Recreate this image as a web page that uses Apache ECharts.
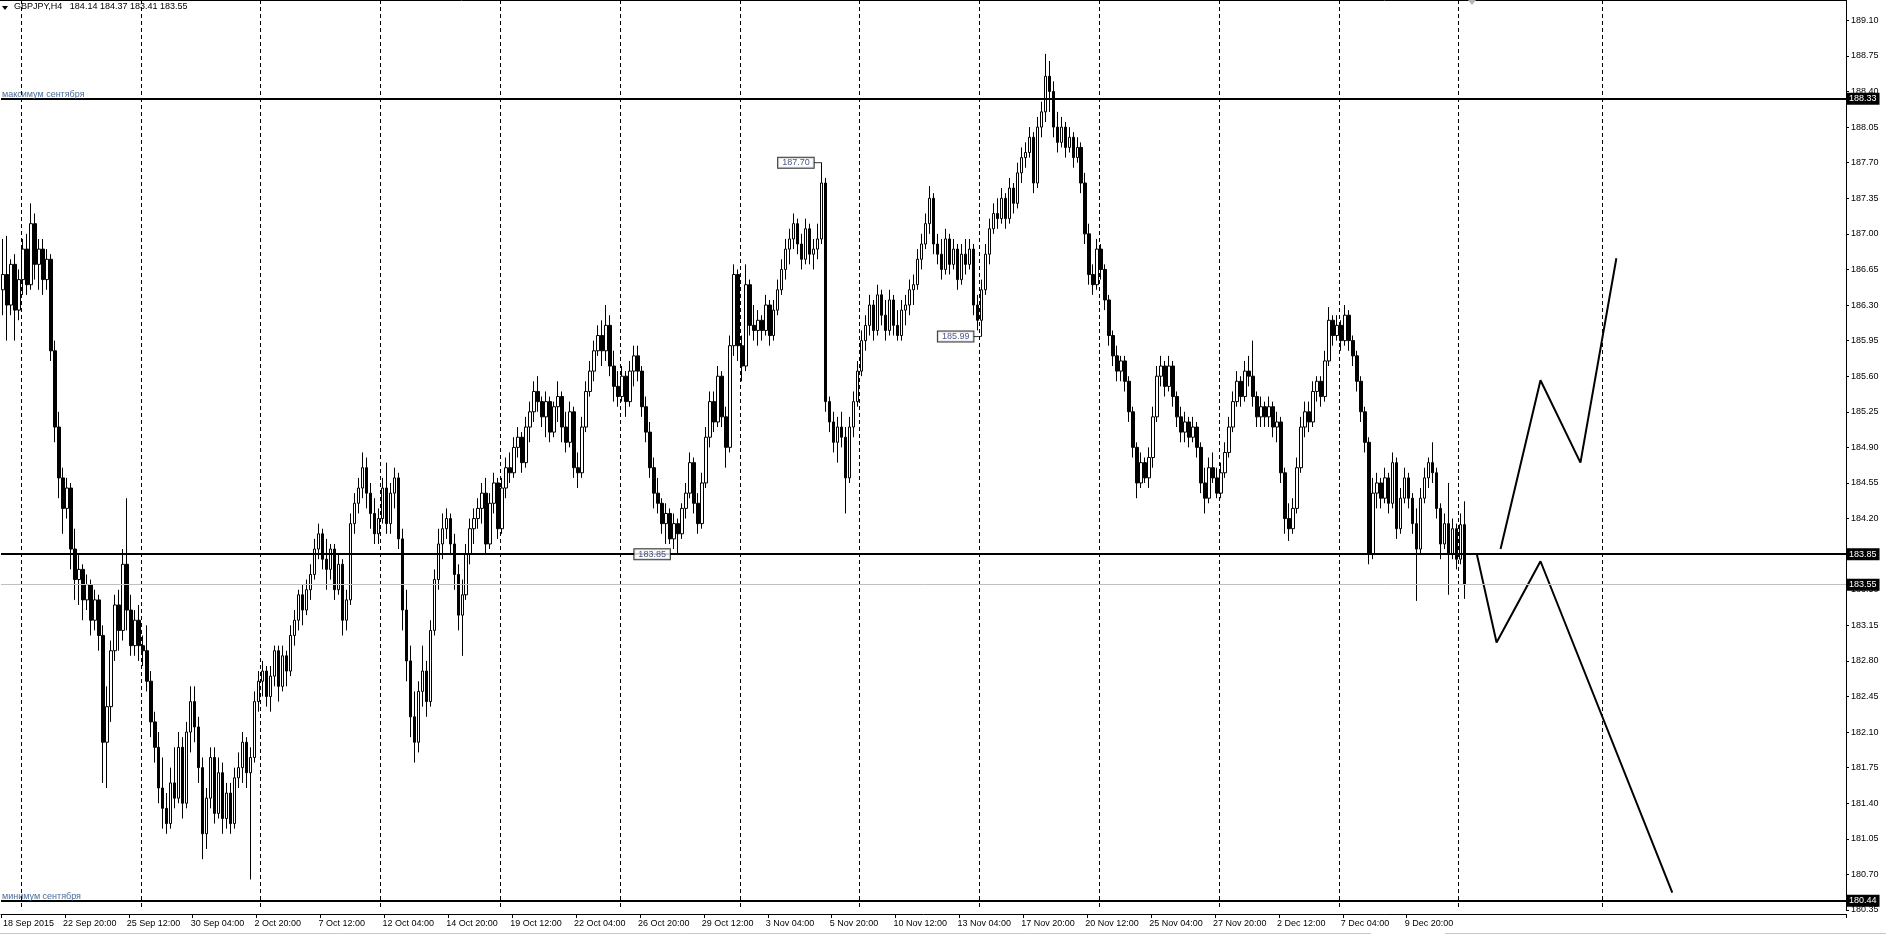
<!DOCTYPE html>
<html>
<head>
<meta charset="utf-8">
<title>GBPJPY H4</title>
<script src="https://cdn.jsdelivr.net/npm/echarts@6/dist/echarts.min.js"></script>
<style>
html, body { margin: 0; padding: 0; background: #fff; }
#chart { width: 1886px; height: 936px; }
</style>
</head>
<body>
<div id="chart"></div>
<script>
// time labels on the bottom axis, one every 16 H4 bars
const timeLabels = ['18 Sep 2015', '22 Sep 20:00', '25 Sep 12:00', '30 Sep 04:00', '2 Oct 20:00',
  '7 Oct 12:00', '12 Oct 04:00', '14 Oct 20:00', '19 Oct 12:00', '22 Oct 04:00', '26 Oct 20:00',
  '29 Oct 12:00', '3 Nov 04:00', '5 Nov 20:00', '10 Nov 12:00', '13 Nov 04:00', '17 Nov 20:00',
  '20 Nov 12:00', '25 Nov 04:00', '27 Nov 20:00', '2 Dec 12:00', '7 Dec 04:00', '9 Dec 20:00'];
const labelStep = 16;

// bar index where each week starts (monday 00:00) -> dashed grid lines
const weekStarts = [5, 35, 65, 95, 125, 155, 185, 215, 245, 275, 305, 335, 365, 401];

// horizontal levels
const sepHigh = 188.33;
const sepLow = 180.44;
const support = 183.85;
const bid = 183.55;

// marked extremes [bar, price]
const priceTags = [[205, 187.70], [245, 185.99], [169, 183.85]];

// hand drawn forecast zigzags [bar, price]
const bullPath = [[375, 183.90], [385, 185.56], [395, 184.75], [404, 186.76]];
const bearPath = [[369, 183.86], [374, 182.98], [385, 183.78], [418, 180.52]];

// GBPJPY H4 candles [open, high, low, close]
const ohlc = [
  [186.45,186.95,186.20,186.60],[186.60,186.98,185.95,186.30],[186.30,186.75,186.20,186.70],[186.70,186.80,185.95,186.25],[186.25,186.65,186.15,186.55],
  [186.55,186.95,186.40,186.85],[186.85,187.00,186.40,186.50],[186.50,187.30,186.45,187.10],[187.10,187.20,186.55,186.70],[186.70,186.95,186.45,186.85],
  [186.85,186.95,186.40,186.55],[186.55,186.85,186.45,186.75],[186.75,186.80,185.75,185.85],[185.85,185.95,184.95,185.10],[185.10,185.25,184.40,184.60],
  [184.60,184.70,184.05,184.30],[184.30,184.60,184.20,184.50],[184.50,184.55,183.70,183.90],[183.90,184.10,183.40,183.60],[183.60,183.85,183.35,183.70],
  [183.70,183.75,183.20,183.40],[183.40,183.65,183.30,183.55],[183.55,183.60,183.05,183.20],[183.20,183.50,183.10,183.40],[183.40,183.45,182.90,183.05],
  [183.05,183.15,181.60,182.00],[182.00,182.55,181.55,182.35],[182.35,183.00,182.20,182.90],[182.90,183.45,182.80,183.35],[183.35,183.50,182.90,183.10],
  [183.10,183.90,183.00,183.75],[183.75,184.40,183.10,183.30],[183.30,183.45,182.85,182.95],[182.95,183.30,182.85,183.20],[183.20,183.35,182.80,182.95],
  [182.95,183.05,182.75,182.90],[182.90,183.15,182.50,182.60],[182.60,182.70,182.05,182.20],[182.20,182.30,181.80,181.95],[181.95,182.10,181.40,181.55],
  [181.55,181.85,181.15,181.35],[181.35,181.50,181.10,181.20],[181.20,181.75,181.15,181.60],[181.60,181.95,181.35,181.45],[181.45,182.10,181.40,181.95],
  [181.95,182.05,181.25,181.40],[181.40,182.20,181.35,182.10],[182.10,182.55,181.90,182.40],[182.40,182.55,182.00,182.15],[182.15,182.25,181.60,181.75],
  [181.75,181.85,180.85,181.10],[181.10,181.55,180.95,181.45],[181.45,181.95,181.35,181.85],[181.85,181.95,181.20,181.30],[181.30,181.85,181.25,181.70],
  [181.70,181.80,181.10,181.25],[181.25,181.60,181.15,181.50],[181.50,181.60,181.10,181.20],[181.20,181.75,181.15,181.65],[181.65,181.90,181.55,181.75],
  [181.75,182.10,181.60,182.00],[182.00,182.05,181.55,181.70],[181.70,181.95,180.65,181.85],[181.85,182.50,181.80,182.40],[182.40,182.70,182.30,182.60],
  [182.60,182.80,182.45,182.70],[182.70,182.75,182.35,182.45],[182.45,182.75,182.30,182.65],[182.65,182.95,182.55,182.90],[182.90,182.95,182.40,182.55],
  [182.55,182.95,182.50,182.85],[182.85,182.90,182.55,182.70],[182.70,183.15,182.65,183.05],[183.05,183.30,182.95,183.20],[183.20,183.50,183.10,183.45],
  [183.45,183.55,183.15,183.30],[183.30,183.60,183.25,183.50],[183.50,183.75,183.40,183.65],[183.65,184.00,183.60,183.90],[183.90,184.15,183.80,184.05],
  [184.05,184.10,183.70,183.80],[183.80,184.00,183.50,183.70],[183.70,183.95,183.60,183.90],[183.90,183.95,183.40,183.50],[183.50,183.85,183.45,183.75],
  [183.75,183.80,183.05,183.20],[183.20,183.50,183.10,183.40],[183.40,184.25,183.35,184.15],[184.15,184.45,184.05,184.35],[184.35,184.60,184.25,184.50],
  [184.50,184.85,184.40,184.70],[184.70,184.80,184.30,184.45],[184.45,184.55,184.10,184.25],[184.25,184.40,183.95,184.05],[184.05,184.30,183.95,184.20],
  [184.20,184.60,184.15,184.50],[184.50,184.75,184.05,184.15],[184.15,184.55,184.05,184.45],[184.45,184.70,184.30,184.60],[184.60,184.65,183.90,184.00],
  [184.00,184.10,183.10,183.30],[183.30,183.50,182.60,182.80],[182.80,182.95,182.05,182.25],[182.25,182.50,181.80,182.00],[182.00,182.60,181.90,182.50],
  [182.50,182.95,182.35,182.70],[182.70,182.80,182.25,182.40],[182.40,183.20,182.35,183.10],[183.10,183.70,183.05,183.60],[183.60,184.10,183.50,183.95],
  [183.95,184.25,183.80,184.10],[184.10,184.30,184.00,184.20],[184.20,184.25,183.85,183.95],[183.95,184.05,183.50,183.65],[183.65,183.75,183.10,183.25],
  [183.25,183.60,182.85,183.45],[183.45,183.95,183.40,183.85],[183.85,184.20,183.75,184.10],[184.10,184.30,183.95,184.20],[184.20,184.40,184.10,184.30],
  [184.30,184.55,184.15,184.45],[184.45,184.60,183.85,183.95],[183.95,184.45,183.90,184.35],[184.35,184.65,184.25,184.55],[184.55,184.60,184.00,184.10],
  [184.10,184.60,184.05,184.50],[184.50,184.80,184.40,184.70],[184.70,184.85,184.55,184.65],[184.65,185.00,184.60,184.90],[184.90,185.10,184.80,185.00],
  [185.00,185.05,184.65,184.75],[184.75,185.20,184.70,185.10],[185.10,185.35,184.95,185.25],[185.25,185.55,185.15,185.45],[185.45,185.60,185.25,185.35],
  [185.35,185.40,185.10,185.20],[185.20,185.45,185.00,185.35],[185.35,185.40,184.95,185.05],[185.05,185.35,185.00,185.30],[185.30,185.55,185.15,185.40],
  [185.40,185.45,184.95,185.10],[185.10,185.25,184.85,184.95],[184.95,185.35,184.90,185.25],[185.25,185.30,184.60,184.70],[184.70,184.85,184.50,184.65],
  [184.65,185.20,184.60,185.10],[185.10,185.55,185.05,185.45],[185.45,185.75,185.40,185.65],[185.65,185.95,185.55,185.85],[185.85,186.10,185.80,186.00],
  [186.00,186.15,185.70,185.85],[185.85,186.30,185.75,186.10],[186.10,186.20,185.60,185.70],[185.70,185.85,185.35,185.50],[185.50,185.65,185.30,185.40],
  [185.40,185.70,185.35,185.60],[185.60,185.65,185.20,185.35],[185.35,185.75,185.30,185.65],[185.65,185.90,185.50,185.80],[185.80,185.90,185.55,185.65],
  [185.65,185.70,185.20,185.30],[185.30,185.40,184.95,185.05],[185.05,185.15,184.60,184.70],[184.70,184.80,184.30,184.45],[184.45,184.60,184.25,184.35],
  [184.35,184.40,184.05,184.15],[184.15,184.35,183.95,184.25],[184.25,184.30,183.95,184.00],[184.00,184.25,183.90,184.15],[184.15,184.20,183.85,184.05],
  [184.05,184.35,184.00,184.30],[184.30,184.55,184.20,184.45],[184.45,184.85,184.40,184.75],[184.75,184.80,184.25,184.35],[184.35,184.45,184.05,184.15],
  [184.15,184.65,184.10,184.55],[184.55,185.10,184.50,185.00],[185.00,185.45,184.90,185.35],[185.35,185.45,185.05,185.15],[185.15,185.70,185.10,185.60],
  [185.60,185.65,185.10,185.20],[185.20,185.30,184.70,184.90],[184.90,186.00,184.85,185.90],[185.90,186.70,185.80,186.60],[186.60,186.65,185.75,185.90],
  [185.90,186.00,185.55,185.70],[185.70,186.70,185.65,186.50],[186.50,186.55,186.00,186.10],[186.10,186.30,185.95,186.05],[186.05,186.25,185.90,186.15],
  [186.15,186.20,185.95,186.05],[186.05,186.40,186.00,186.30],[186.30,186.35,185.90,186.00],[186.00,186.35,185.95,186.25],[186.25,186.55,186.20,186.45],
  [186.45,186.75,186.40,186.65],[186.65,186.95,186.55,186.85],[186.85,187.05,186.70,186.95],[186.95,187.20,186.85,187.10],[187.10,187.15,186.80,186.90],
  [186.90,187.00,186.65,186.75],[186.75,187.15,186.70,187.05],[187.05,187.10,186.70,186.80],[186.80,186.95,186.65,186.85],[186.85,187.10,186.75,186.95],
  [186.95,187.70,186.90,187.50],[187.50,187.55,185.25,185.35],[185.35,185.40,185.05,185.15],[185.15,185.25,184.85,184.95],[184.95,185.20,184.75,185.10],
  [185.10,185.25,184.90,185.00],[185.00,185.10,184.25,184.60],[184.60,185.20,184.55,185.10],[185.10,185.45,185.00,185.35],[185.35,185.75,185.30,185.65],
  [185.65,186.05,185.60,185.95],[185.95,186.20,185.85,186.10],[186.10,186.40,186.00,186.30],[186.30,186.35,185.95,186.05],[186.05,186.50,186.00,186.40],
  [186.40,186.45,186.10,186.20],[186.20,186.35,185.95,186.05],[186.05,186.45,186.00,186.35],[186.35,186.40,186.00,186.10],[186.10,186.25,185.95,186.00],
  [186.00,186.35,185.95,186.25],[186.25,186.40,186.10,186.30],[186.30,186.55,186.20,186.45],[186.45,186.60,186.30,186.50],[186.50,186.85,186.45,186.75],
  [186.75,187.00,186.65,186.90],[186.90,187.20,186.85,187.10],[187.10,187.47,187.00,187.35],[187.35,187.40,186.80,186.90],[186.90,187.00,186.70,186.80],
  [186.80,186.95,186.55,186.65],[186.65,187.05,186.60,186.95],[186.95,187.00,186.60,186.70],[186.70,186.95,186.65,186.85],[186.85,186.90,186.45,186.55],
  [186.55,186.90,186.50,186.80],[186.80,186.95,186.60,186.70],[186.70,186.95,186.65,186.85],[186.85,186.90,186.20,186.30],[186.30,186.40,186.05,186.15],
  [186.15,186.55,185.99,186.45],[186.45,186.90,186.40,186.80],[186.80,187.15,186.70,187.05],[187.05,187.30,187.00,187.20],[187.20,187.35,187.05,187.15],
  [187.15,187.45,187.10,187.35],[187.35,187.40,187.05,187.15],[187.15,187.55,187.10,187.45],[187.45,187.50,187.20,187.30],[187.30,187.70,187.25,187.60],
  [187.60,187.85,187.50,187.75],[187.75,187.90,187.65,187.80],[187.80,188.05,187.75,187.95],[187.95,188.00,187.40,187.50],[187.50,188.15,187.45,188.05],
  [188.05,188.30,187.95,188.20],[188.20,188.77,188.10,188.55],[188.55,188.70,188.20,188.40],[188.40,188.50,187.95,188.05],[188.05,188.20,187.80,187.90],
  [187.90,188.15,187.85,188.05],[188.05,188.10,187.75,187.85],[187.85,188.05,187.80,187.95],[187.95,188.00,187.65,187.75],[187.75,187.95,187.70,187.85],
  [187.85,187.90,187.40,187.50],[187.50,187.60,186.90,187.00],[187.00,187.10,186.50,186.60],[186.60,186.70,186.40,186.50],[186.50,186.95,186.45,186.85],
  [186.85,186.90,186.55,186.65],[186.65,186.70,186.25,186.35],[186.35,186.40,185.90,186.00],[186.00,186.05,185.70,185.80],[185.80,185.90,185.55,185.65],
  [185.65,185.80,185.55,185.75],[185.75,185.80,185.45,185.55],[185.55,185.60,185.15,185.25],[185.25,185.30,184.80,184.90],[184.90,184.95,184.40,184.55],
  [184.55,184.85,184.50,184.75],[184.75,184.80,184.55,184.60],[184.60,184.90,184.50,184.80],[184.80,185.30,184.70,185.20],[185.20,185.70,185.15,185.60],
  [185.60,185.80,185.50,185.70],[185.70,185.75,185.40,185.50],[185.50,185.80,185.45,185.70],[185.70,185.75,185.30,185.40],[185.40,185.45,185.10,185.20],
  [185.20,185.30,184.95,185.05],[185.05,185.25,184.95,185.15],[185.15,185.20,184.90,185.00],[185.00,185.20,184.95,185.10],[185.10,185.15,184.80,184.90],
  [184.90,184.95,184.45,184.55],[184.55,184.70,184.25,184.40],[184.40,184.80,184.35,184.70],[184.70,184.85,184.55,184.60],[184.60,184.70,184.40,184.45],
  [184.45,184.75,184.40,184.65],[184.65,184.95,184.60,184.85],[184.85,185.20,184.80,185.10],[185.10,185.45,185.05,185.35],[185.35,185.65,185.30,185.55],
  [185.55,185.60,185.30,185.40],[185.40,185.75,185.35,185.65],[185.65,185.80,185.50,185.60],[185.60,185.95,185.30,185.40],[185.40,185.45,185.10,185.20],
  [185.20,185.40,185.10,185.30],[185.30,185.35,185.10,185.20],[185.20,185.40,185.10,185.30],[185.30,185.35,185.00,185.10],[185.10,185.25,184.95,185.15],
  [185.15,185.20,184.55,184.65],[184.65,184.70,184.05,184.20],[184.20,184.35,183.98,184.10],[184.10,184.40,184.05,184.30],[184.30,184.80,184.25,184.70],
  [184.70,185.20,184.65,185.10],[185.10,185.35,185.00,185.25],[185.25,185.35,185.05,185.15],[185.15,185.55,185.10,185.45],[185.45,185.60,185.35,185.55],
  [185.55,185.60,185.30,185.40],[185.40,185.85,185.35,185.75],[185.75,186.28,185.70,186.15],[186.15,186.20,185.90,186.00],[186.00,186.20,185.95,186.10],
  [186.10,186.15,185.85,185.95],[185.95,186.30,185.90,186.20],[186.20,186.25,185.85,185.95],[185.95,186.00,185.70,185.80],[185.80,185.85,185.45,185.55],
  [185.55,185.60,185.15,185.25],[185.25,185.30,184.85,184.95],[184.95,185.00,183.75,183.85],[183.85,184.60,183.80,184.45],[184.45,184.65,184.30,184.55],
  [184.55,184.60,184.30,184.40],[184.40,184.70,184.35,184.60],[184.60,184.65,184.25,184.35],[184.35,184.85,184.30,184.75],[184.75,184.80,184.00,184.10],
  [184.10,184.50,184.05,184.40],[184.40,184.70,184.35,184.60],[184.60,184.65,184.30,184.40],[184.40,184.45,184.05,184.15],[184.15,184.30,183.39,183.90],
  [183.90,184.50,183.85,184.40],[184.40,184.70,184.35,184.60],[184.60,184.80,184.50,184.75],[184.75,184.95,184.55,184.65],[184.65,184.70,184.20,184.30],
  [184.30,184.35,183.80,183.95],[183.95,184.25,183.90,184.15],[184.15,184.55,183.45,183.85],[183.85,184.20,183.80,184.10],[184.10,184.15,183.70,183.80],
  [183.80,184.25,183.75,184.14],[184.14,184.37,183.41,183.55]
];

const FONT = 'Liberation Sans';
const slots = 462; // bar slots across the plot (4px each)

let categories = [];
for (let i = 0; i < slots; i++) categories.push(String(i));

let candleData = ohlc.map(r => [r[0], r[3], r[2], r[1]]);

// MT4 writes the label from the tick mark on, so draw it from the slot before
function labelSlot(idx) {
  if (idx === 0) return 0;
  let k = (idx + 1) / labelStep;
  return Number.isInteger(k) && k < timeLabels.length ? k : -1;
}
function tickAt(idx) {
  return idx % labelStep === 0 && idx / labelStep < timeLabels.length;
}

const axisBox = {
  show: true, position: 'end', distance: 0, color: '#fff', backgroundColor: '#000',
  padding: [2, 3, 1, 3], fontSize: 9, fontFamily: FONT
};
const levelText = {
  show: true, position: 'insideStartTop', distance: [1, 0], color: '#4a6d96',
  fontSize: 9, fontFamily: FONT
};

let myChart = echarts.init(document.getElementById('chart'), null, { renderer: 'canvas' });

myChart.setOption({
  animation: false,
  backgroundColor: '#fff',
  title: {
    text: 'GBPJPY,H4   184.14 184.37 183.41 183.55',
    left: 14, top: 2, padding: 0,
    textStyle: { fontSize: 9, fontWeight: 'normal', fontFamily: FONT, color: '#000' }
  },
  grid: { left: -1, top: 0, right: 40, bottom: 26, containLabel: false },
  xAxis: {
    type: 'category',
    data: categories,
    boundaryGap: true,
    offset: 4,
    axisLine: { show: true, lineStyle: { color: '#000', width: 1 } },
    axisTick: { show: true, length: 4, interval: tickAt, lineStyle: { color: '#000' } },
    axisLabel: {
      interval: idx => labelSlot(idx) >= 0,
      formatter: (v, idx) => (labelSlot(idx) >= 0 ? timeLabels[labelSlot(idx)] : ''),
      align: 'left', margin: 5, fontSize: 9, fontFamily: FONT, color: '#000'
    },
    splitLine: {
      show: true,
      interval: idx => weekStarts.indexOf(idx) >= 0,
      lineStyle: { color: '#000', type: [4, 3], width: 1 }
    }
  },
  yAxis: {
    type: 'value',
    position: 'right',
    min: 180.35,
    max: 189.30,
    interval: 0.35,
    axisLine: { show: true, lineStyle: { color: '#000', width: 1 } },
    axisTick: { show: true, length: 3, lineStyle: { color: '#000' } },
    axisLabel: {
      formatter: v => v.toFixed(2), showMaxLabel: false,
      margin: 5, fontSize: 9, fontFamily: FONT, color: '#000'
    },
    splitLine: { show: false }
  },
  graphic: [
    { type: 'line', shape: { x1: 0, y1: 0.5, x2: 1846, y2: 0.5 }, style: { stroke: '#000', lineWidth: 1 } },
    { type: 'line', shape: { x1: 0, y1: 933.5, x2: 1371, y2: 933.5 }, style: { stroke: '#c8c8c8', lineWidth: 1 } },
    { type: 'line', shape: { x1: 1445, y1: 933.5, x2: 1886, y2: 933.5 }, style: { stroke: '#c8c8c8', lineWidth: 1 } },
    { type: 'polygon', shape: { points: [[2, 6], [8, 6], [5, 10]] }, style: { fill: '#000' } },
    { type: 'polygon', shape: { points: [[1468, 0], [1476, 0], [1472, 5]] }, style: { fill: '#b4b4b4' } }
  ],
  series: [
    {
      name: 'GBPJPY',
      type: 'candlestick',
      data: candleData,
      barWidth: 3,
      itemStyle: { color: '#fff', color0: '#000', borderColor: '#000', borderColor0: '#000', borderWidth: 1 },
      markLine: {
        symbol: 'none',
        silent: true,
        data: [
          { yAxis: bid, lineStyle: { color: '#c0c0c0', width: 1, type: 'solid' }, label: Object.assign({}, axisBox, { formatter: bid.toFixed(2) }) },
          { yAxis: sepHigh, lineStyle: { color: '#000', width: 2, type: 'solid' }, label: Object.assign({}, axisBox, { formatter: sepHigh.toFixed(2) }) },
          { yAxis: support, lineStyle: { color: '#000', width: 2, type: 'solid' }, label: Object.assign({}, axisBox, { formatter: support.toFixed(2) }) },
          { yAxis: sepLow, lineStyle: { color: '#000', width: 2, type: 'solid' }, label: Object.assign({}, axisBox, { formatter: sepLow.toFixed(2) }) },
          { yAxis: sepHigh, lineStyle: { color: 'rgba(0,0,0,0)', width: 1 }, label: Object.assign({}, levelText, { formatter: 'максимум сентября' }) },
          { yAxis: sepLow, lineStyle: { color: 'rgba(0,0,0,0)', width: 1 }, label: Object.assign({}, levelText, { formatter: 'минимум сентября' }) }
        ]
      }
    },
    {
      name: 'up',
      type: 'line',
      data: bullPath,
      symbol: 'none',
      lineStyle: { color: '#000', width: 2 },
      z: 4
    },
    {
      name: 'down',
      type: 'line',
      data: bearPath,
      symbol: 'none',
      lineStyle: { color: '#000', width: 2 },
      z: 4
    },
    {
      name: 'tags',
      type: 'scatter',
      data: priceTags,
      symbol: 'rect',
      symbolSize: [8, 1],
      symbolOffset: [-4, 0],
      itemStyle: { color: '#000' },
      label: {
        show: true, position: 'left', distance: 0,
        formatter: p => p.value[1].toFixed(2),
        backgroundColor: '#fff', borderColor: '#000', borderWidth: 1,
        padding: [1, 4, 0, 4], color: '#1a2a6a', fontSize: 9, fontFamily: FONT
      },
      z: 5
    }
  ]
});
</script>
</body>
</html>
